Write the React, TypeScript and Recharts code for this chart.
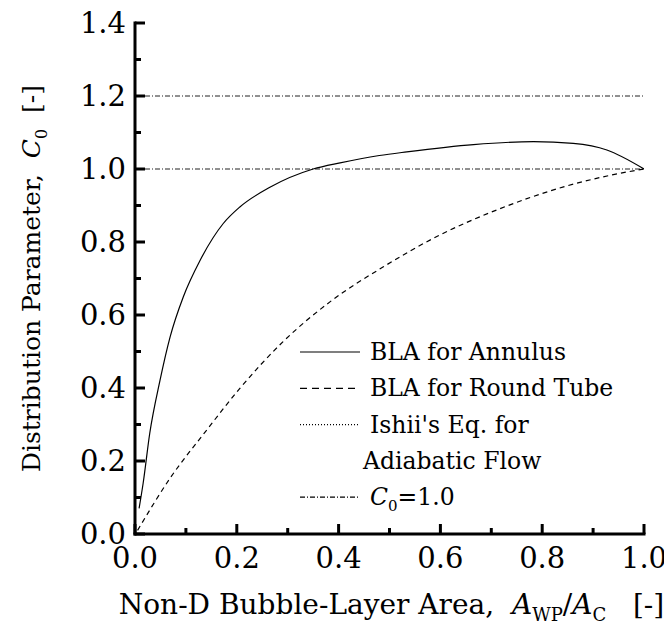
import React from 'react';
import { LineChart, Line, XAxis, YAxis, ReferenceLine } from 'recharts';

// DejaVu Serif is the only serif face available offline
const FONT = '"DejaVu Serif", serif';

// axis ticks (0.1 step, labels on every other one)
const xTicks = [0, 0.1, 0.2, 0.3, 0.4, 0.5, 0.6, 0.7, 0.8, 0.9, 1.0];
const yTicks = [0, 0.1, 0.2, 0.3, 0.4, 0.5, 0.6, 0.7, 0.8, 0.9, 1.0, 1.1, 1.2, 1.3, 1.4];

// BLA for Annulus
const annulusX = [0.008, 0.016, 0.029, 0.049, 0.069, 0.095, 0.128, 0.173, 0.206, 0.265, 0.35, 0.403, 0.48, 0.534, 0.665, 0.783, 0.861, 0.927, 1.0];
const annulusY = [0.07, 0.139, 0.276, 0.42, 0.54, 0.65, 0.75, 0.85, 0.896, 0.95, 1.0, 1.017, 1.037, 1.047, 1.067, 1.075, 1.07, 1.052, 1.0];

// BLA for Round Tube
const tubeX = [0.005, 0.069, 0.141, 0.206, 0.291, 0.383, 0.488, 0.593, 0.711, 0.842, 0.979, 1.0];
const tubeY = [0.01, 0.153, 0.285, 0.399, 0.527, 0.636, 0.732, 0.815, 0.888, 0.951, 0.995, 1.0];

// horizontal reference values
const ishiiC0 = 1.2;
const unityC0 = 1.0;

const annulus = annulusX.map((x, i) => ({ x, y: annulusY[i] }));
const tube = tubeX.map((x, i) => ({ x, y: tubeY[i] }));

const DASH_DOT = '5 2 1 2';
const txt = { fontFamily: FONT };

const isMajor = (v: number) => Math.round(v * 10) % 2 === 0;

const BottomTick = (props: any) => {
  const { x, y, payload } = props;
  const major = isMajor(payload.value);
  return (
    <g>
      <line x1={x} y1={y} x2={x} y2={y - (major ? 10 : 6)} stroke="#000" strokeWidth={3} />
      {major && (
        <text x={x} y={y + 34} textAnchor="middle" fontSize={29} style={txt} fill="#000">
          {payload.value.toFixed(1)}
        </text>
      )}
    </g>
  );
};

const TopTick = (props: any) => {
  const { x, y, payload } = props;
  const major = isMajor(payload.value);
  return <line x1={x} y1={y} x2={x} y2={y + (major ? 10 : 6)} stroke="#000" strokeWidth={3} />;
};

const LeftTick = (props: any) => {
  const { x, y, payload } = props;
  const major = isMajor(payload.value);
  return (
    <g>
      <line x1={x} y1={y} x2={x + (major ? 10 : 6)} y2={y} stroke="#000" strokeWidth={3} />
      {major && (
        <text x={x - 9} y={y + 10} textAnchor="end" fontSize={29} style={txt} fill="#000">
          {payload.value.toFixed(1)}
        </text>
      )}
    </g>
  );
};

const RightTick = (props: any) => {
  const { x, y, payload } = props;
  const major = isMajor(payload.value);
  return <line x1={x} y1={y} x2={x - (major ? 10 : 6)} y2={y} stroke="#000" strokeWidth={3} />;
};

const XTitle = (props: any) => {
  const { x, y, width } = props.viewBox;
  return (
    <text x={x + width / 2 + 2} y={y + 80} textAnchor="middle" fontSize={28} style={txt} fill="#000">
      Non-D Bubble-Layer Area,{'\u00a0\u00a0'}
      <tspan fontStyle="italic">A</tspan>
      <tspan fontSize={18} dy={7}>WP</tspan>
      <tspan dy={-7}>/</tspan>
      <tspan fontStyle="italic">A</tspan>
      <tspan fontSize={18} dy={7}>C</tspan>
      <tspan dy={-7}>{'\u00a0\u00a0\u00a0'}[-]</tspan>
    </text>
  );
};

const YTitle = (props: any) => {
  const { x, y, height } = props.viewBox;
  const cx = x + 32;
  const cy = y + height / 2;
  return (
    <text
      x={cx}
      y={cy}
      transform={`rotate(-90 ${cx} ${cy})`}
      textAnchor="middle"
      fontSize={25}
      style={txt}
      fill="#000"
    >
      Distribution Parameter,{'\u00a0\u00a0'}
      <tspan fontStyle="italic">C</tspan>
      <tspan fontSize={16} dy={7}>0</tspan>
      <tspan dy={-7}>{'\u00a0\u00a0'}[-]</tspan>
    </text>
  );
};

const legendRows = [
  { label: 'BLA for Annulus', dash: '' },
  { label: 'BLA for Round Tube', dash: '7 5' },
  { label: "Ishii's Eq. for", dash: '1 2' },
  { label: 'Adiabatic Flow', dash: null },
  { label: 'C0=1.0', dash: DASH_DOT },
];

function LegendBox() {
  return (
    <svg width={350} height={190} style={{ position: 'absolute', left: 292, top: 326 }}>
      {legendRows.map((r, i) => {
        const cy = 18 + i * 36.3;
        return (
          <g key={r.label}>
            {r.dash !== null && (
              <line x1={0} y1={cy} x2={60} y2={cy} stroke="#000" strokeWidth={1.2} strokeDasharray={r.dash || undefined} />
            )}
            <text x={r.dash === null ? 63 : 70} y={cy + 8} fontSize={23.5} style={txt} fill="#000">
              {r.label === 'C0=1.0' ? (
                <>
                  <tspan fontStyle="italic">C</tspan>
                  <tspan fontSize={15} dy={6}>0</tspan>
                  <tspan dy={-6}>=1.0</tspan>
                </>
              ) : (
                r.label
              )}
            </text>
          </g>
        );
      })}
    </svg>
  );
}

export default function App() {
  return (
    <div style={{ position: 'relative', width: 664, height: 623 }}>
      <LineChart width={664} height={623} margin={{ top: 15, right: 28, bottom: 0, left: 0 }}>
        <XAxis
          xAxisId="bottom"
          type="number"
          dataKey="x"
          domain={[0, 1]}
          ticks={xTicks}
          interval={0}
          tickSize={0}
          tickMargin={0}
          tickLine={false}
          tick={<BottomTick />}
          height={97}
          axisLine={{ stroke: '#000', strokeWidth: 3, strokeLinecap: 'square' }}
          label={<XTitle />}
          allowDataOverflow
        />
        <XAxis
          xAxisId="top"
          orientation="top"
          type="number"
          dataKey="x"
          domain={[0, 1]}
          ticks={xTicks}
          interval={0}
          tickSize={0}
          tickMargin={0}
          tickLine={false}
          tick={<TopTick />}
          height={0}
          axisLine={{ stroke: '#000', strokeWidth: 3, strokeLinecap: 'square' }}
        />
        <YAxis
          yAxisId="left"
          type="number"
          domain={[0, 1.4]}
          ticks={yTicks}
          interval={0}
          tickSize={0}
          tickMargin={0}
          tickLine={false}
          tick={<LeftTick />}
          width={127}
          axisLine={{ stroke: '#000', strokeWidth: 3, strokeLinecap: 'square' }}
          label={<YTitle />}
          allowDataOverflow
        />
        <YAxis
          yAxisId="right"
          orientation="right"
          type="number"
          domain={[0, 1.4]}
          ticks={yTicks}
          interval={0}
          tickSize={0}
          tickMargin={0}
          tickLine={false}
          tick={<RightTick />}
          width={0}
          axisLine={{ stroke: '#000', strokeWidth: 3, strokeLinecap: 'square' }}
        />
        <ReferenceLine xAxisId="bottom" yAxisId="left" y={ishiiC0} stroke="#222" strokeWidth={1} strokeDasharray={DASH_DOT} />
        <ReferenceLine xAxisId="bottom" yAxisId="left" y={unityC0} stroke="#222" strokeWidth={1} strokeDasharray={DASH_DOT} />
        <Line
          xAxisId="bottom"
          yAxisId="left"
          data={annulus}
          dataKey="y"
          type="monotone"
          stroke="#000"
          strokeWidth={1.2}
          dot={false}
          isAnimationActive={false}
        />
        <Line
          xAxisId="bottom"
          yAxisId="left"
          data={tube}
          dataKey="y"
          type="monotone"
          stroke="#000"
          strokeWidth={1.2}
          strokeDasharray="5 4"
          dot={false}
          isAnimationActive={false}
        />
      </LineChart>
      <LegendBox />
    </div>
  );
}
